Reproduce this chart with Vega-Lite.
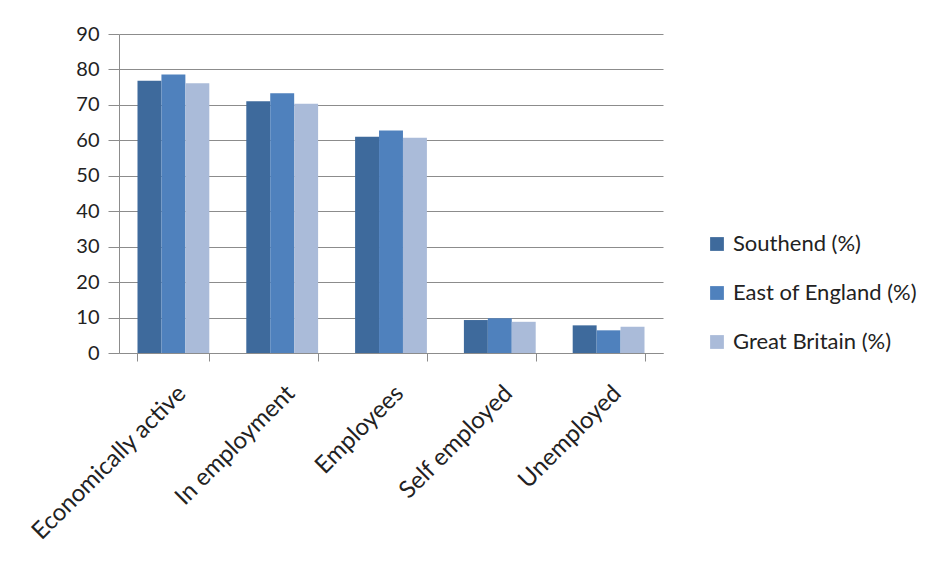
{
  "$schema": "https://vega.github.io/schema/vega-lite/v6.json",
  "autosize": "none",
  "width": 544,
  "height": 319,
  "padding": {"left": 119, "top": 34, "right": 286, "bottom": 225},
  "background": "white",
  "config": {
    "font": "Lato",
    "view": {"stroke": null},
    "axis": {"labelFont": "Lato", "labelColor": "#222222"},
    "legend": {"labelFont": "Lato"}
  },
  "data": {
    "values": [
      {"category": "Economically active", "area": "Southend (%)", "value": 76.8},
      {"category": "Economically active", "area": "East of England (%)", "value": 78.6},
      {"category": "Economically active", "area": "Great Britain (%)", "value": 76.1},
      {"category": "In employment", "area": "Southend (%)", "value": 71.0},
      {"category": "In employment", "area": "East of England (%)", "value": 73.3},
      {"category": "In employment", "area": "Great Britain (%)", "value": 70.3},
      {"category": "Employees", "area": "Southend (%)", "value": 61.0},
      {"category": "Employees", "area": "East of England (%)", "value": 62.8},
      {"category": "Employees", "area": "Great Britain (%)", "value": 60.7},
      {"category": "Self employed", "area": "Southend (%)", "value": 9.3},
      {"category": "Self employed", "area": "East of England (%)", "value": 9.8},
      {"category": "Self employed", "area": "Great Britain (%)", "value": 8.8},
      {"category": "Unemployed", "area": "Southend (%)", "value": 7.8},
      {"category": "Unemployed", "area": "East of England (%)", "value": 6.4},
      {"category": "Unemployed", "area": "Great Britain (%)", "value": 7.4}
    ]
  },
  "mark": {"type": "bar"},
  "encoding": {
    "x": {
      "field": "category",
      "type": "nominal",
      "sort": null,
      "scale": {"paddingInner": 0.34, "paddingOuter": 0.17},
      "axis": {
        "title": null,
        "labelAngle": -45,
        "labelFontSize": 24,
        "labelLimit": 0,
        "labelPadding": 20,
        "tickBand": "extent",
        "tickSize": 8,
        "tickColor": "#8c8c8c",
        "domainColor": "#8c8c8c",
        "grid": false
      }
    },
    "xOffset": {
      "field": "area",
      "sort": ["Southend (%)", "East of England (%)", "Great Britain (%)"],
      "scale": {"paddingInner": 0}
    },
    "y": {
      "field": "value",
      "type": "quantitative",
      "scale": {"domain": [0, 90], "nice": false},
      "axis": {
        "title": null,
        "values": [0, 10, 20, 30, 40, 50, 60, 70, 80, 90],
        "labelFontSize": 20,
        "labelPadding": 9,
        "tickSize": 11,
        "tickColor": "#8c8c8c",
        "domainColor": "#8c8c8c",
        "gridColor": "#8c8c8c",
        "gridWidth": 1
      }
    },
    "color": {
      "field": "area",
      "type": "nominal",
      "sort": ["Southend (%)", "East of England (%)", "Great Britain (%)"],
      "scale": {
        "domain": ["Southend (%)", "East of England (%)", "Great Britain (%)"],
        "range": ["#3e6a9c", "#4f81bd", "#aabbd9"]
      },
      "legend": {
        "title": null,
        "orient": "none",
        "legendX": 587,
        "legendY": 199,
        "symbolType": "square",
        "symbolSize": 190,
        "symbolStrokeWidth": 0,
        "labelFontSize": 22,
        "labelLimit": 0,
        "labelColor": "#222222",
        "labelOffset": 5,
        "rowPadding": 27
      }
    }
  }
}
